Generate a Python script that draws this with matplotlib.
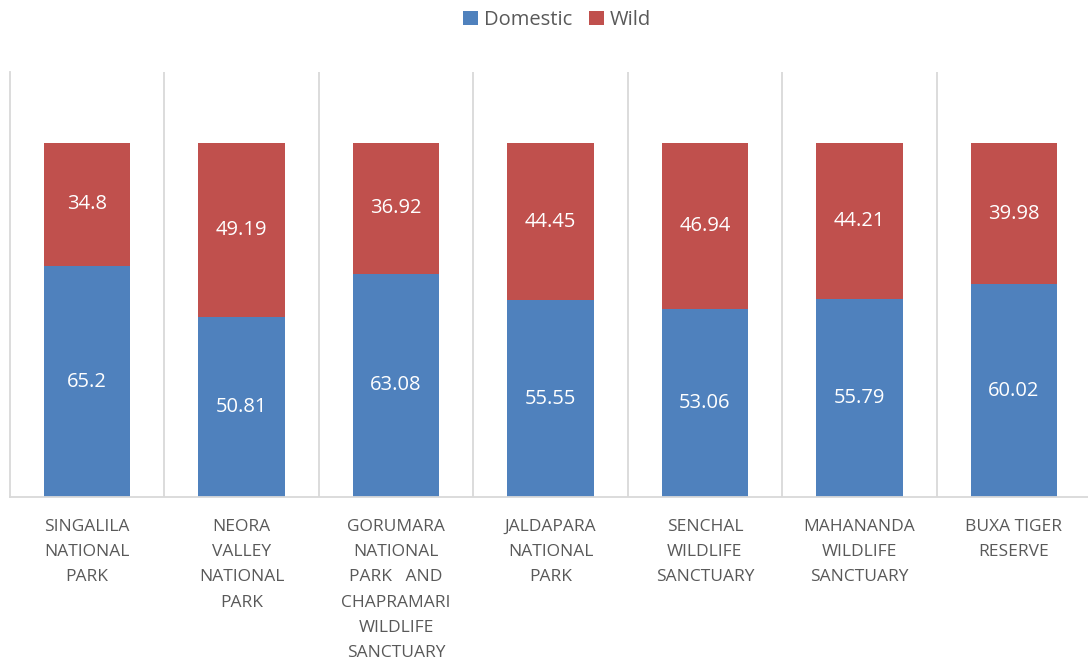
import matplotlib.pyplot as plt
import numpy as np

plt.rcParams["font.family"] = ["Open Sans", "DejaVu Sans"]

categories = [
    "SINGALILA\nNATIONAL\nPARK",
    "NEORA\nVALLEY\nNATIONAL\nPARK",
    "GORUMARA\nNATIONAL\nPARK   AND\nCHAPRAMARI\nWILDLIFE\nSANCTUARY",
    "JALDAPARA\nNATIONAL\nPARK",
    "SENCHAL\nWILDLIFE\nSANCTUARY",
    "MAHANANDA\nWILDLIFE\nSANCTUARY",
    "BUXA TIGER\nRESERVE",
]
domestic = [65.2, 50.81, 63.08, 55.55, 53.06, 55.79, 60.02]
wild = [34.8, 49.19, 36.92, 44.45, 46.94, 44.21, 39.98]
domestic_labels = ["65.2", "50.81", "63.08", "55.55", "53.06", "55.79", "60.02"]
wild_labels = ["34.8", "49.19", "36.92", "44.45", "46.94", "44.21", "39.98"]

BLUE = "#4F81BD"
RED = "#C0504D"
GRID = "#D9D9D9"

W, H = 1088, 665
fig = plt.figure(figsize=(W / 100, H / 100), dpi=100)
ax = fig.add_axes([10 / W, (H - 497) / H, 1081 / W, 425 / H])

x = np.arange(len(categories))
b1 = ax.bar(x, domestic, width=0.56, color=BLUE, label="Domestic", zorder=2)
b2 = ax.bar(x, wild, width=0.56, bottom=domestic, color=RED, label="Wild", zorder=2)
ax.bar_label(b1, labels=domestic_labels, label_type="center", color="white", fontsize=14.5)
ax.bar_label(b2, labels=wild_labels, label_type="center", color="white", fontsize=14.5)

ax.set_xlim(-0.5, len(categories) - 0.5)
ax.set_ylim(0, 120)
for i in range(len(categories) - 1):
    ax.axvline(i + 0.5, color=GRID, lw=1.3, zorder=1)

for s in ["top", "right"]:
    ax.spines[s].set_visible(False)
ax.spines["left"].set_color(GRID)
ax.spines["left"].set_linewidth(1.3)
ax.spines["bottom"].set_color(GRID)
ax.spines["bottom"].set_linewidth(1.3)
ax.set_yticks([])
ax.set_xticks(x)
ax.set_xticklabels(categories, fontsize=12.5, color="#595959", linespacing=1.76)
ax.tick_params(axis="x", length=0, pad=16)

fig.legend(
    handles=[b1, b2],
    loc="center",
    bbox_to_anchor=(0.512, 1 - 20 / H),
    ncol=2,
    frameon=False,
    fontsize=14.5,
    labelcolor="#595959",
    handlelength=0.75,
    handleheight=0.75,
    handletextpad=0.3,
    columnspacing=0.8,
)

fig.savefig("out.png", dpi=100)
